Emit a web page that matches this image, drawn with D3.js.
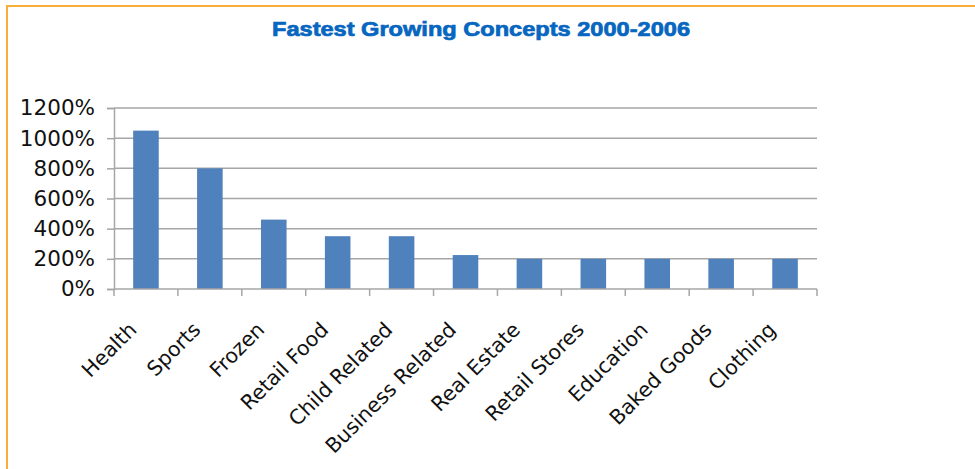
<!DOCTYPE html>
<html>
<head>
<meta charset="utf-8">
<script src="https://cdn.jsdelivr.net/npm/d3@7"></script>
<style>
  html, body { margin: 0; padding: 0; background: #fff; }
  svg { display: block; }
</style>
</head>
<body>
<svg id="chart" width="975" height="469"></svg>
<script>
// Growth by franchise concept, 2000-2006 (percent)
const categories = ["Health", "Sports", "Frozen", "Retail Food", "Child Related",
  "Business Related", "Real Estate", "Retail Stores", "Education", "Baked Goods", "Clothing"];
const growth = [1050, 800, 460, 350, 350, 225, 200, 200, 200, 200, 200];
const yTicks = [0, 200, 400, 600, 800, 1000, 1200];
const title = "Fastest Growing Concepts 2000-2006";

const svg = d3.select("#chart");
const W = 975, H = 469;
const plot = { left: 114, right: 817, top: 108, bottom: 289 };

// Orange frame (top and left edges)
svg.append("path")
  .attr("d", `M7,${H} L7,6 L${W},6`)
  .attr("fill", "none")
  .attr("stroke", "#f9ae3a")
  .attr("stroke-width", 2);

// Heavy, wide title
svg.append("text")
  .attr("x", 481).attr("y", 36)
  .attr("text-anchor", "middle")
  .attr("font-family", "Liberation Sans, Arial, sans-serif")
  .attr("font-weight", "bold")
  .attr("font-size", 20)
  .attr("textLength", 418)
  .attr("lengthAdjust", "spacingAndGlyphs")
  .attr("fill", "#0766c0")
  .attr("stroke", "#0766c0")
  .attr("stroke-width", 0.7)
  .text(title);

const x = d3.scaleBand()
  .domain(categories)
  .range([plot.left, plot.right])
  .paddingInner(0.6)
  .paddingOuter(0.3);

const y = d3.scaleLinear()
  .domain([0, 1200])
  .range([plot.bottom, plot.top]);

const gridColor = "#a6a6a6";
const labelFont = "DejaVu Sans, Verdana, sans-serif";

// Value axis with short outside ticks
const yAxis = svg.append("g")
  .attr("transform", `translate(${plot.left},0)`)
  .call(d3.axisLeft(y).tickValues(yTicks).tickFormat(d => d + "%")
    .tickSize(7).tickPadding(12));
yAxis.select(".domain").attr("stroke", gridColor).attr("stroke-width", 1.5);
yAxis.selectAll(".tick line").attr("stroke", gridColor).attr("stroke-width", 1.5);
yAxis.selectAll(".tick text")
  .attr("font-family", labelFont)
  .attr("font-size", 21.5)
  .attr("fill", "#111");

// Horizontal gridlines
svg.append("g")
  .selectAll("line")
  .data(yTicks.filter(d => d > 0))
  .join("line")
  .attr("x1", plot.left).attr("x2", plot.right)
  .attr("y1", d => y(d)).attr("y2", d => y(d))
  .attr("stroke", gridColor).attr("stroke-width", 1.5);

// Bars
svg.append("g")
  .selectAll("rect")
  .data(categories.map((c, i) => ({ c, v: growth[i] })))
  .join("rect")
  .attr("x", d => x(d.c))
  .attr("width", x.bandwidth())
  .attr("y", d => y(d.v))
  .attr("height", d => y(0) - y(d.v))
  .attr("fill", "#4f81bd");

// Category axis: ticks at band boundaries
const boundaries = d3.range(categories.length + 1)
  .map(i => plot.left + i * (plot.right - plot.left) / categories.length);
const xg = svg.append("g");
xg.append("line")
  .attr("x1", plot.left).attr("x2", plot.right)
  .attr("y1", plot.bottom).attr("y2", plot.bottom)
  .attr("stroke", gridColor).attr("stroke-width", 1.5);
xg.selectAll("line.tk")
  .data(boundaries)
  .join("line").attr("class", "tk")
  .attr("x1", d => d).attr("x2", d => d)
  .attr("y1", plot.bottom).attr("y2", plot.bottom + 7)
  .attr("stroke", gridColor).attr("stroke-width", 1.5);

xg.selectAll("text")
  .data(categories)
  .join("text")
  .attr("transform", d => `translate(${x(d) + x.bandwidth() / 2 - 8},${plot.bottom + 42}) rotate(-45)`)
  .attr("text-anchor", "end")
  .attr("font-family", labelFont)
  .attr("font-size", 20.5)
  .attr("fill", "#111")
  .text(d => d);
</script>
</body>
</html>
